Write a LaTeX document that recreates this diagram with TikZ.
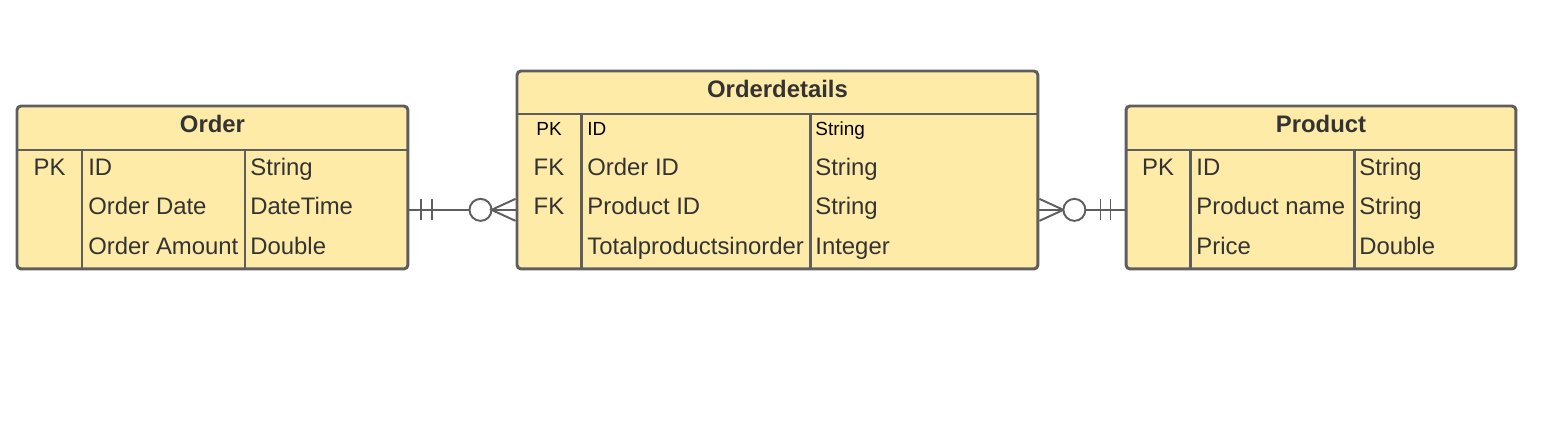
\documentclass[tikz,border=0pt]{standalone}
\usepackage{fontspec}
\setmainfont{Liberation Sans}
\definecolor{erfill}{HTML}{FFEBA8}
\definecolor{erline}{HTML}{5E5E5E}
\definecolor{ertext}{HTML}{333333}
\tikzset{
    tablebox/.style={draw=erline, fill=erfill, line width=1.7pt, rounded corners=2.3pt,
        anchor=north west, inner sep=0pt},
    tableline/.style={draw=erline, line width=1.7pt},
    title/.style={font=\bfseries\fontsize{13.6}{16}\selectfont, text=ertext, anchor=base, inner sep=0pt},
    cell/.style={font=\fontsize{13.6}{16}\selectfont, text=ertext, anchor=base west, inner sep=0pt},
    key/.style={cell, anchor=base},
    smallcell/.style={font=\fontsize{10.8}{13}\selectfont, text=black, anchor=base west, inner sep=0pt},
    rel/.style={draw=erline, line width=1.1pt},
}
\begin{document}
\begin{tikzpicture}[x=0.02cm, y=-0.02cm]
    \useasboundingbox (0,0) rectangle (1541,443);
    % Order table
    \node [tablebox, minimum width=7.82cm, minimum height=3.26cm] (order) at (15.5,104.5) {};
    \draw [tableline] (17,150) -- (408,150);
    \draw [tableline] (82,150) -- (82,269);
    \draw [tableline] (245,150) -- (245,269);
    \node [title] (order-title) at (212.5,132) {Order};
    \node [key] (order-pk) at (49.5,175) {PK};
    \node [cell] (order-id) at (88,175) {ID};
    \node [cell] (order-idtype) at (250,175) {String};
    \node [cell] (order-date) at (88,214.5) {Order Date};
    \node [cell] (order-datetype) at (250,214.5) {DateTime};
    \node [cell] (order-amount) at (88,254) {Order Amount};
    \node [cell] (order-amounttype) at (250,254) {Double};
    % Orderdetails table
    \node [tablebox, minimum width=10.42cm, minimum height=3.96cm] (details) at (515.5,69.5) {};
    \draw [tableline] (517,114) -- (1038,114);
    \draw [tableline] (581,114) -- (581,269);
    \draw [tableline] (810,114) -- (810,269);
    \node [title] (details-title) at (777.5,97) {Orderdetails};
    \node [smallcell, anchor=base] (details-pk) at (549,135.5) {PK};
    \node [smallcell] (details-id) at (587,135.5) {ID};
    \node [smallcell] (details-idtype) at (815,135.5) {String};
    \node [key] (details-fk1) at (549,175) {FK};
    \node [cell] (details-order) at (587,175) {Order ID};
    \node [cell] (details-ordertype) at (815,175) {String};
    \node [key] (details-fk2) at (549,214.5) {FK};
    \node [cell] (details-product) at (587,214.5) {Product ID};
    \node [cell] (details-producttype) at (815,214.5) {String};
    \node [cell] (details-total) at (587,254) {Totalproductsinorder};
    \node [cell] (details-totaltype) at (815,254) {Integer};
    % Product table
    \node [tablebox, minimum width=7.80cm, minimum height=3.26cm] (product) at (1124.5,104.5) {};
    \draw [tableline] (1126,150) -- (1516,150);
    \draw [tableline] (1190,150) -- (1190,269);
    \draw [tableline] (1354,150) -- (1354,269);
    \node [title] (product-title) at (1321,132) {Product};
    \node [key] (product-pk) at (1158,175) {PK};
    \node [cell] (product-id) at (1196,175) {ID};
    \node [cell] (product-idtype) at (1359,175) {String};
    \node [cell] (product-name) at (1196,214.5) {Product name};
    \node [cell] (product-nametype) at (1359,214.5) {String};
    \node [cell] (product-price) at (1196,254) {Price};
    \node [cell] (product-pricetype) at (1359,254) {Double};
    % Order -- Orderdetails
    \draw [rel] (order.east |- order-date.mid) coordinate (oa)
        -- (details.west |- details-product.mid) coordinate (ob);
    \draw [rel] ([shift={(12,-10.5)}]oa) -- ++(0,21);
    \draw [rel] ([shift={(23,-10.5)}]oa) -- ++(0,21);
    \draw [rel, fill=white] ([shift={(-35,0)}]ob) circle (0.22cm);
    \draw [rel] ([shift={(0,-11)}]ob) -- ([shift={(-24,0)}]ob) -- ([shift={(0,11)}]ob);
    % Orderdetails -- Product
    \draw [rel] (details.east |- details-product.mid) coordinate (pa)
        -- (product.west |- product-name.mid) coordinate (pb);
    \draw [rel] ([shift={(0,-11)}]pa) -- ([shift={(24,0)}]pa) -- ([shift={(0,11)}]pa);
    \draw [rel, fill=white] ([shift={(35,0)}]pa) circle (0.22cm);
    \draw [rel] ([shift={(-14,-10.5)}]pb) -- ++(0,21);
    \draw [rel] ([shift={(-24,-10.5)}]pb) -- ++(0,21);
\end{tikzpicture}
\end{document}
